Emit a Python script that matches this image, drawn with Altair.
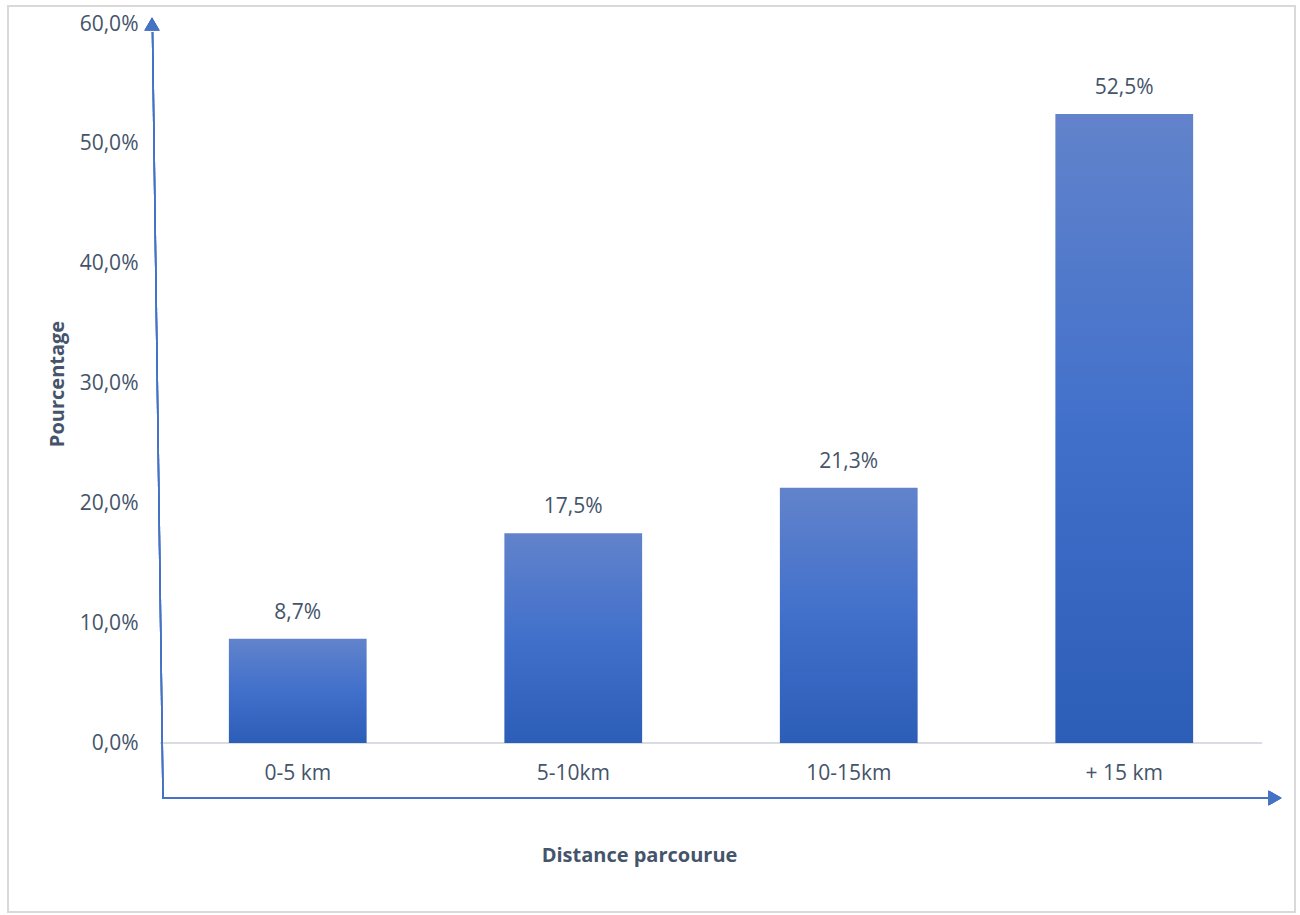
import altair as alt
import pandas as pd

categories = ["0-5 km", "5-10km", "10-15km", "+ 15 km"]
values = [8.7, 17.5, 21.3, 52.5]
labels = ["8,7%", "17,5%", "21,3%", "52,5%"]
y_ticks = [0, 10, 20, 30, 40, 50, 60]

df = pd.DataFrame({"cat": categories, "val": values, "lab": labels})

TXT = "#44546A"
FONT = "Open Sans"
AX = "#4472C4"
FS = 21
TFS = 20

W, H = 1102, 719

xenc = alt.X("cat:N", sort=categories, title="Distance parcourue",
             scale=alt.Scale(paddingInner=0.5, paddingOuter=0.25),
             axis=alt.Axis(labelAngle=0, labelFontSize=FS, labelColor=TXT, labelFont=FONT,
                           labelPadding=19, ticks=False, domain=False,
                           titleFontSize=TFS, titleFontWeight="bold", titleColor=TXT,
                           titleFont=FONT, titlePadding=62, titleX=479))
yenc = alt.Y("val:Q", title="Pourcentage",
             scale=alt.Scale(domain=[0, 60], nice=False),
             axis=alt.Axis(values=y_ticks,
                           labelExpr="replace(format(datum.value, '.1f'), '.', ',') + '%'",
                           labelFontSize=FS, labelColor=TXT, labelFont=FONT, labelPadding=22,
                           ticks=False, domain=False, grid=False,
                           titleFontSize=TFS, titleFontWeight="bold", titleColor=TXT,
                           titleFont=FONT, titlePadding=12))

grad = alt.Gradient(gradient="linear", x1=0, x2=0, y1=0, y2=1,
                    stops=[alt.GradientStop(color="#6283CB", offset=0),
                           alt.GradientStop(color="#4170CB", offset=0.5),
                           alt.GradientStop(color="#2C5DB7", offset=1)])

base = alt.Chart(df)

border = base.mark_rect(fillOpacity=0, stroke="#D9D9D9", strokeWidth=1.5).encode(
    x=alt.value(-152), x2=alt.value(1135), y=alt.value(-18), y2=alt.value(888))

bars = base.mark_bar(color=grad).encode(x=xenc, y=yenc)
text = base.mark_text(dy=-26, fontSize=FS, color=TXT, font=FONT).encode(
    x=alt.X("cat:N", sort=categories), y="val:Q", text="lab:N")

zero = base.mark_rule(color="#D9DDE3", strokeWidth=2).encode(
    x=alt.value(0), x2=alt.value(W), y=alt.datum(0))

# decorative arrows
yline = base.mark_rule(color=AX, strokeWidth=1.5).encode(
    x=alt.value(3), y=alt.value(774), x2=alt.value(-7.5), y2=alt.value(8))
yhead = base.mark_point(shape="triangle-up", filled=True, size=230, color=AX, opacity=1).encode(
    x=alt.value(-8), y=alt.value(0))
xline = base.mark_rule(color=AX, strokeWidth=1.5).encode(
    x=alt.value(2), x2=alt.value(1108), y=alt.value(774))
xhead = base.mark_point(shape="triangle-right", filled=True, size=230, color=AX, opacity=1).encode(
    x=alt.value(1115), y=alt.value(774))

chart = alt.layer(border, zero, bars, text, yline, yhead, xline, xhead).properties(
    width=W, height=H,
    background="white",
    autosize=alt.AutoSizeParams(type="none"),
    padding={"left": 160, "top": 24, "right": 38, "bottom": 172},
).configure_view(strokeWidth=0, stroke=None)

chart.save("out.html", embed_options={"renderer": "svg", "actions": False})
